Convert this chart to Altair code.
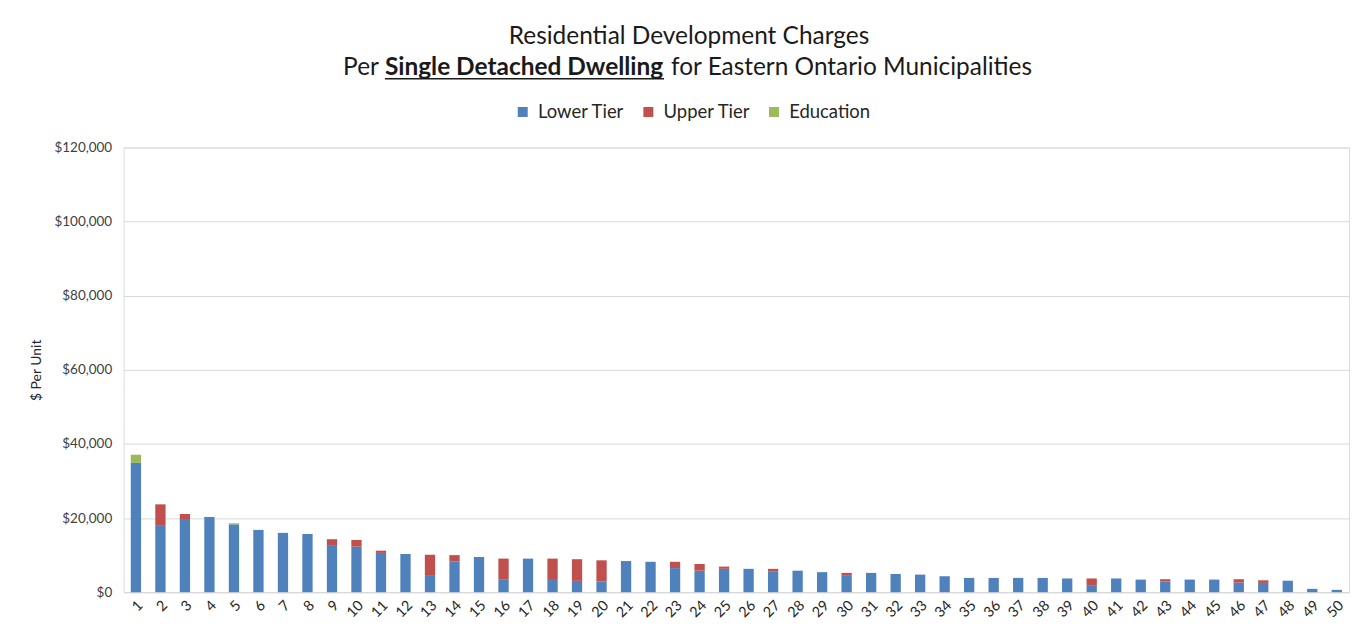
import altair as alt
import pandas as pd

municipalities = [str(i) for i in range(1, 51)]
lower_tier = [34900, 18100, 19500, 20300, 18300, 16800, 16000, 15700, 12500, 12300,
              10600, 10300, 4400, 8250, 9500, 3500, 9060, 3300, 3050, 2900,
              8400, 8200, 6500, 5800, 6300, 6300, 5650, 5800, 5400, 4600,
              5200, 4900, 4750, 4300, 3850, 3850, 3850, 3850, 3700, 1900,
              3700, 3400, 2900, 3400, 3400, 2600, 2500, 3100, 900, 630]
upper_tier = [0, 5600, 1600, 0, 0, 0, 0, 0, 1800, 1800,
              600, 0, 5700, 1750, 0, 5560, 0, 5760, 5850, 5700,
              0, 0, 1700, 1800, 600, 0, 650, 0, 0, 600,
              0, 0, 0, 0, 0, 0, 0, 0, 0, 1800,
              0, 0, 600, 0, 0, 900, 700, 0, 0, 0]
education = [2200, 0, 0, 0, 300, 0, 0, 0, 0, 0,
             0, 0, 0, 0, 0, 0, 0, 0, 0, 0,
             0, 0, 0, 0, 0, 0, 0, 0, 0, 0,
             0, 0, 0, 0, 0, 0, 0, 0, 0, 0,
             0, 0, 0, 0, 0, 0, 0, 0, 0, 0]
series = ["Lower Tier", "Upper Tier", "Education"]
colors = ["#4f81bd", "#c0504d", "#9bbb59"]
y_ticks = [0, 20000, 40000, 60000, 80000, 100000, 120000]
title_line1 = ["Residential Development Charges"]
title_pre = ["Per"]
title_bold = ["Single Detached Dwelling"]
title_post = ["for Eastern Ontario Municipalities"]

rows = []
for i, m in enumerate(municipalities):
    for k, (s, vals) in enumerate(zip(series, [lower_tier, upper_tier, education])):
        rows.append({"Municipality": m, "Series": s, "Value": vals[i], "Order": k})
df = pd.DataFrame(rows)

W, H = 1229, 446
FONT = "Lato"
TS = 24.5

bars = alt.Chart(df).mark_bar().encode(
    x=alt.X("Municipality:N", sort=municipalities,
            scale=alt.Scale(paddingInner=0.58, paddingOuter=0.29),
            axis=alt.Axis(title=None, labelAngle=-45, labelFontSize=14.5, labelColor="#262626",
                          labelFont=FONT, domainColor="#d9d9d9", domainWidth=1, ticks=False,
                          labelPadding=6, grid=False)),
    y=alt.Y("Value:Q", stack="zero", scale=alt.Scale(domain=[0, 120000]),
            axis=alt.Axis(title="$ Per Unit", values=y_ticks, format="$,.0f",
                          labelFontSize=13.5, labelColor="#404040", labelFont=FONT,
                          labelPadding=12, ticks=False, domain=False,
                          gridColor="#d9d9d9", gridWidth=1,
                          titleFont=FONT, titleFontSize=14, titleFontWeight="normal",
                          titleColor="#262626", titleX=-87, titleY=H / 2,
                          titleAngle=-90, titleAlign="center", titleBaseline="middle")),
    color=alt.Color("Series:N", scale=alt.Scale(domain=series, range=colors),
                    legend=alt.Legend(orient="none", direction="horizontal", legendX=391,
                                      legendY=-45, title=None, symbolType="square",
                                      symbolSize=100, symbolStrokeWidth=0, labelFontSize=18.5,
                                      labelFont=FONT, labelColor="#262626", labelOffset=6,
                                      columnPadding=14)),
    order=alt.Order("Order:Q"),
)

t1 = alt.Chart(pd.DataFrame({"t": title_line1})).mark_text(
    font=FONT, fontSize=TS, color="#1a1a1a", align="center", baseline="middle"
).encode(x=alt.value(567), y=alt.value(-111), text="t:N")

t_pre = alt.Chart(pd.DataFrame({"t": title_pre})).mark_text(
    font=FONT, fontSize=TS, color="#1a1a1a", align="right", baseline="middle"
).encode(x=alt.value(256), y=alt.value(-80), text="t:N")

t_bold = alt.Chart(pd.DataFrame({"t": title_bold})).mark_text(
    font=FONT, fontSize=TS, fontWeight="bold", color="#1a1a1a", align="left", baseline="middle"
).encode(x=alt.value(262), y=alt.value(-80), text="t:N")

t_post = alt.Chart(pd.DataFrame({"t": title_post})).mark_text(
    font=FONT, fontSize=TS, color="#1a1a1a", align="left", baseline="middle"
).encode(x=alt.value(549), y=alt.value(-80), text="t:N")

underline = alt.Chart(pd.DataFrame({"t": title_bold})).mark_rule(
    color="#1a1a1a", strokeWidth=1.5
).encode(x=alt.value(262), x2=alt.value(542), y=alt.value(-69))

border = alt.Chart(pd.DataFrame({"t": ["frame"]})).mark_rect(
    fill="transparent", stroke="#d9d9d9", strokeWidth=1.5
).encode(x=alt.value(-117), x2=alt.value(1300), y=alt.value(-143), y2=alt.value(600))

chart = alt.layer(border, bars, t1, t_pre, t_bold, t_post, underline).properties(
    width=W, height=H,
    autosize=alt.AutoSizeParams(type="none"),
    padding={"left": 116, "top": 139, "right": 10, "bottom": 30},
).configure_view(stroke=None).configure(background="white")

chart.save("out.html", embed_options={"renderer": "svg", "actions": False})
